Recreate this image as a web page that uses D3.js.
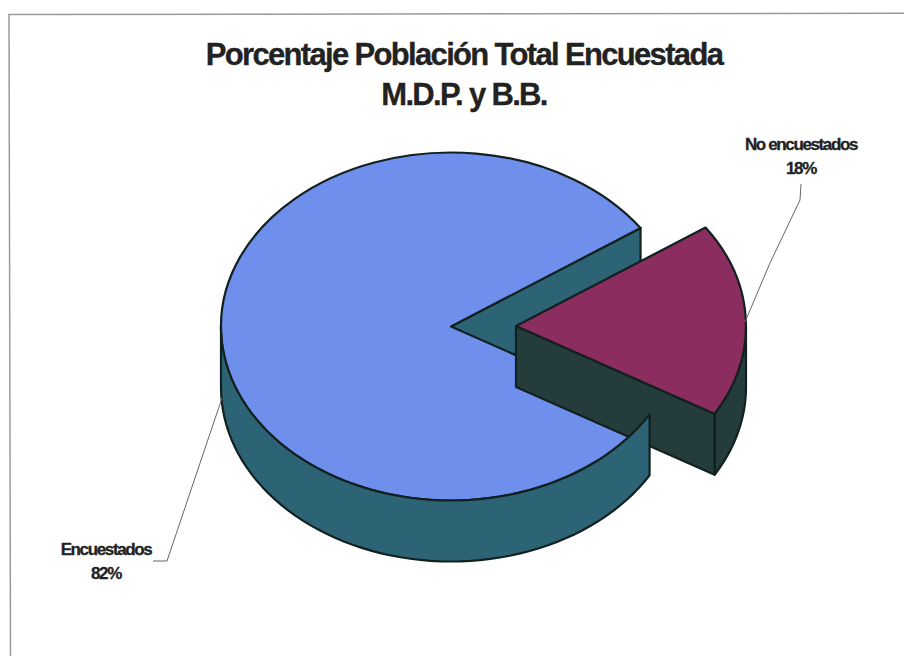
<!DOCTYPE html>
<html>
<head>
<meta charset="utf-8">
<script src="https://cdn.jsdelivr.net/npm/d3@7"></script>
<style>
  html, body { margin: 0; padding: 0; background: #fff; }
  text { font-family: "Liberation Sans", Arial, sans-serif; font-weight: bold; fill: #222; stroke: #222; stroke-width: 0.3; }
</style>
</head>
<body>
<svg id="fig" width="904" height="656" style="display:block"></svg>
<script>
const categories = ["No encuestados", "Encuestados"];
const values = [18, 82];
const valueLabels = ["18%", "82%"];
const titleLines = ["Porcentaje Población Total Encuestada", "M.D.P. y B.B."];
const topColors = ["#8c2d5f", "#6e90ec"];
const wallColors = ["#243c3c", "#2c6476"];

const svg = d3.select("#fig");

// frame, only top and left show in the scan
svg.append("path")
   .attr("d", d3.line()([[904, 13.3], [9, 14.5], [10.5, 656]]))
   .attr("fill", "none")
   .attr("stroke", "#999")
   .attr("stroke-width", 1.5);

// title
svg.selectAll(".title")
   .data(titleLines)
   .enter()
   .append("text")
   .attr("class", "title")
   .attr("x", 464)
   .attr("y", (d, i) => 65 + i * 40)
   .attr("text-anchor", "middle")
   .attr("font-size", 31)
   .attr("letter-spacing", -1.67)
   .text(d => d);

// pie geometry
const rx = 230, ry = 174, depth = 61;
const lineWidth = 2.2, edge = "#132020";
const centers = [[516, 326], [451, 326.5]]; // exploded slice, main slice

const pie = d3.pie().sort(null).startAngle(55.5 * Math.PI / 180).endAngle((55.5 + 360) * Math.PI / 180);
const arcs = pie(values);

const px = (a, c) => c[0] + rx * Math.sin(a);
const py = (a, c) => c[1] - ry * Math.cos(a);

const unitArc = d3.arc().innerRadius(0).outerRadius(1);

// side wall along the rim, between two angles
function rimPath(a0, a1, c) {
    const n = 60;
    const pts = d3.range(n + 1).map(i => a0 + (a1 - a0) * i / n);
    const top = pts.map(a => [px(a, c), py(a, c)]);
    const bottom = pts.slice().reverse().map(a => [px(a, c), py(a, c) + depth]);
    return d3.line()(top.concat(bottom)) + "Z";
}

// flat wall from the apex out to the rim at one angle
function cutPath(a, c) {
    return d3.line()([
        [c[0], c[1]],
        [px(a, c), py(a, c)],
        [px(a, c), py(a, c) + depth],
        [c[0], c[1] + depth]
    ]) + "Z";
}

function wall(d, i) {
    svg.append("path")
       .attr("d", d)
       .attr("fill", wallColors[i])
       .attr("stroke", edge)
       .attr("stroke-width", lineWidth)
       .attr("stroke-linejoin", "round");
}

function topFace(arc, i) {
    svg.append("path")
       .attr("transform", `translate(${centers[i][0]},${centers[i][1]}) scale(${rx},${ry})`)
       .attr("d", unitArc({ startAngle: arc.startAngle, endAngle: arc.endAngle }))
       .attr("fill", topColors[i])
       .attr("stroke", edge)
       .attr("stroke-width", lineWidth)
       .attr("stroke-linejoin", "round")
       .attr("vector-effect", "non-scaling-stroke");
}

// order matters: exploded wall covers the blue top, but the teal rim stays in front of it
const main = arcs[1], small = arcs[0];
wall(cutPath(main.endAngle, centers[1]), 1);
topFace(main, 1);

wall(rimPath(Math.PI / 2, small.endAngle, centers[0]), 0);
wall(cutPath(small.endAngle, centers[0]), 0);
topFace(small, 0);

wall(rimPath(main.startAngle, 1.5 * Math.PI, centers[1]), 1);

// leader lines
const leaders = [
    [[745, 322], [770, 263], [800, 200], [801, 184]],
    [[222, 398], [167, 561], [153, 561]]
];
svg.selectAll(".leader")
   .data(leaders)
   .enter()
   .append("path")
   .attr("class", "leader")
   .attr("d", d3.line())
   .attr("fill", "none")
   .attr("stroke", "#666")
   .attr("stroke-width", 1);

// data labels
const labelPos = [[801, 150], [106, 555]];
categories.forEach((c, i) => {
    const g = svg.append("g");
    [c, valueLabels[i]].forEach((s, j) => {
        g.append("text")
         .attr("x", labelPos[i][0])
         .attr("y", labelPos[i][1] + j * 23.5)
         .attr("text-anchor", "middle")
         .attr("font-size", 17)
         .attr("letter-spacing", -1.37)
         .text(s);
    });
});
</script>
</body>
</html>
